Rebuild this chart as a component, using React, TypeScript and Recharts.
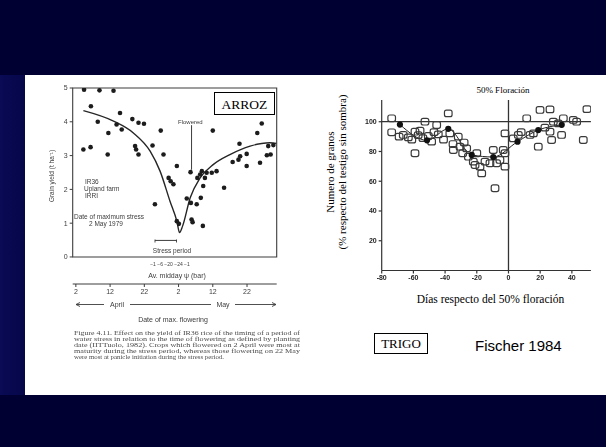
import React from 'react';
import {
  ComposedChart,
  Scatter,
  Line,
  XAxis,
  YAxis,
  ReferenceArea,
  ReferenceLine,
} from 'recharts';

const W = 606;
const H = 447;

// ---- ARROZ: IR36, upland farm IRRI. Grain yield (t/ha) vs date of max. flowering
// (day counted from 1 April, so 32 = 2 May)
const riceDays = [
  4.4, 8.9, 13.0, 6.4, 14.9, 8.4, 13.9, 15.4, 18.5, 20.3, 21.9, 11.5, 26.8, 4.2, 6.3,
  11.3, 19.3, 19.6, 20.3, 24.4, 27.6, 29.1, 29.7, 30.5, 25.1, 31.5, 31.5, 32.1, 35.5,
  34.4, 35.6, 37.3, 38.5, 35.8, 36.1, 39.1, 38.3, 38.8, 40.2, 39.7, 37.5, 41.7, 43.1,
  42.0, 45.3, 47.8, 49.5, 50.0, 49.8, 51.9, 51.9, 55.0, 56.3, 55.8, 57.8, 58.9, 58.2,
  59.7, 39.2,
];
const riceYield = [
  4.95, 4.93, 4.92, 4.46, 4.26, 4.0, 3.92, 3.77, 4.08, 3.97, 3.94, 3.67, 3.74, 3.18, 3.25,
  3.03, 3.28, 3.18, 3.03, 3.3, 3.03, 2.34, 2.24, 2.15, 1.56, 2.69, 1.06, 0.98, 2.51, 1.73,
  1.6, 1.56, 1.75, 1.11, 1.03, 0.92, 2.44, 2.54, 2.49, 2.34, 2.34, 2.49, 2.54, 3.74, 2.05,
  2.81, 2.88, 2.98, 3.35, 3.05, 2.69, 3.67, 3.95, 2.79, 3.01, 3.03, 3.28, 3.31, 2.1,
];
const riceCurveDays = [4.2, 13.0, 18.8, 23.7, 26.6, 29.5, 31.5, 32.3, 33.2, 35.4, 38.3, 42.2, 47.0, 52.9, 58.7, 60.6];
const riceCurveYield = [4.33, 4.02, 3.67, 3.13, 2.54, 1.65, 1.06, 0.72, 0.92, 1.75, 2.34, 2.74, 3.03, 3.28, 3.38, 3.36];
const riceYTicks = [0, 1, 2, 3, 4, 5];
const riceDateTicks = [2, 12, 22, 32, 42, 52];
const riceDateLabels = ['2', '12', '22', '2', '12', '22'];
const riceDayDomain: [number, number] = [1.08, 60.67];
const riceStress = { from: 25.1, to: 31.5, level: 0.49 };
const riceFloweredDay = 35.8;

// ---- TRIGO: grain number (% of unshaded control) vs days from 50% flowering
const wheatOpenDays = [
  -73.7, -73.7, -66.4, -63.2, -59.0, -59.0, -55.8, -52.7, -50.6, -48.5, -45.3, -44.3,
  -38.0, -37.0, -34.8, -31.7, -30.6, -28.9, -26.4, -25.3, -22.2, -21.1, -20.0, -18.0,
  -16.9, -14.8, -11.7, -9.6, -8.5, -7.5, -5.4, -3.3, -2.2, -2.2, -2.2, 3.0, 6.2, 11.5,
  13.6, 15.7, 18.8, 19.9, 26.2, 26.2, 27.2, 28.3, 31.4, 33.5, 34.6, 40.9, 43.0, 47.2,
  49.5, -69.0, -61.0, -57.0, -54.0, -47.0, -41.0, -35.0, -28.0, 8.0, 23.0,
];
const wheatOpenGrains = [
  102.3, 92.9, 91.1, 89.5, 93.3, 78.8, 94.0, 100.0, 90.4, 86.6, 97.8, 91.5, 105.6, 92.2,
  81.0, 90.0, 83.2, 78.8, 82.1, 76.5, 73.2, 70.9, 78.8, 69.8, 65.3, 73.2, 72.1, 81.0,
  55.3, 72.1, 74.3, 81.0, 92.2, 69.8, 78.8, 88.8, 91.1, 102.3, 91.1, 92.2, 83.2, 107.9,
  108.3, 93.3, 87.7, 100.0, 98.9, 91.1, 102.3, 101.2, 100.0, 87.7, 108.5, 90.0, 88.0,
  91.0, 89.0, 93.0, 88.0, 85.0, 86.0, 93.0, 96.0,
];
const wheatMeanDays = [-68.5, -51.4, -38.0, -23.2, -9.6, 5.7, 18.8, 33.6];
const wheatMeanGrains = [98.1, 87.5, 95.2, 77.7, 76.3, 86.6, 94.4, 97.9];
const wheatXTicks = [-80, -60, -40, -20, 0, 20, 40];
const wheatYTicks = [20, 40, 60, 80, 100];
const wheatDayDomain: [number, number] = [-80, 52];
const wheatGrainDomain: [number, number] = [0, 114.6];

const riceData = riceDays.map((d, i) => ({ day: d, yield: riceYield[i] }));
const riceCurve = riceCurveDays.map((d, i) => ({ day: d, yield: riceCurveYield[i] }));
const wheatOpen = wheatOpenDays.map((d, i) => ({ day: d, grains: wheatOpenGrains[i] }));
const wheatMeans = wheatMeanDays.map((d, i) => ({ day: d, grains: wheatMeanGrains[i] }));

const SERIF = '"Liberation Serif", "DejaVu Serif", serif';
const SANS = '"Liberation Sans", Arial, sans-serif';

const RiceDot = (p: any) =>
  p.cx == null ? <g /> : <circle cx={p.cx} cy={p.cy} r={2.3} fill="#1c1c1c" />;
const OpenSquare = (p: any) =>
  p.cx == null ? (
    <g />
  ) : (
    <rect x={p.cx - 3.8} y={p.cy - 3.3} width={7.6} height={6.6} rx={2} fill="none" stroke="#3a3a3a" strokeWidth={1.2} />
  );
const MeanDot = (p: any) =>
  p.cx == null ? <g /> : <circle cx={p.cx} cy={p.cy} r={3.1} fill="#111" />;

const riceTick = { fontSize: 7, fill: '#3c3c3c', fontFamily: SANS };
const wheatTick = { fontSize: 7, fill: '#222', fontFamily: SANS, fontWeight: 700 };

const captionLines = [
  'Figure 4.11.    Effect on the yield of IR36 rice of the timing of a period of',
  'water stress in relation to the time of flowering as defined by planting',
  'date (IITTuolo, 1982). Crops which flowered on 2 April were most at',
  'maturity during the stress period, whereas those flowering on 22 May',
  'were most at panicle initiation during the stress period.',
];

function RiceChart() {
  return (
    <ComposedChart width={W} height={H} margin={{ top: 88, right: 329.3, bottom: 143, left: 52.7 }}>
      <XAxis
        xAxisId="d"
        type="number"
        dataKey="day"
        domain={riceDayDomain}
        ticks={riceDateTicks}
        interval={0}
        allowDataOverflow
        tickFormatter={(v: number) => riceDateLabels[riceDateTicks.indexOf(v)]}
        height={20}
        stroke="#3c3c3c"
        tickSize={3}
        tick={riceTick}
      />
      <YAxis
        yAxisId="y"
        type="number"
        dataKey="yield"
        domain={[-0.8, 5]}
        ticks={riceYTicks}
        interval={0}
        allowDataOverflow
        width={20}
        axisLine={false}
        stroke="#3c3c3c"
        tickSize={3}
        tick={riceTick}
      />
      <ReferenceArea
        xAxisId="d"
        yAxisId="y"
        x1={riceDayDomain[0]}
        x2={riceDayDomain[1]}
        y1={0}
        y2={5}
        fill="none"
        stroke="#3c3c3c"
        strokeWidth={1.1}
        fillOpacity={0}
      />
      <ReferenceLine
        xAxisId="d"
        yAxisId="y"
        segment={[
          { x: riceFloweredDay, y: 2.58 },
          { x: riceFloweredDay, y: 3.9 },
        ]}
        stroke="#3c3c3c"
      />
      <ReferenceLine
        xAxisId="d"
        yAxisId="y"
        segment={[
          { x: riceStress.from, y: riceStress.level },
          { x: riceStress.to, y: riceStress.level },
        ]}
        stroke="#3c3c3c"
      />
      <Line
        xAxisId="d"
        yAxisId="y"
        data={riceCurve}
        dataKey="yield"
        type="monotone"
        stroke="#262626"
        strokeWidth={1.4}
        dot={false}
        isAnimationActive={false}
      />
      <Scatter
        xAxisId="d"
        yAxisId="y"
        data={riceData}
        dataKey="yield"
        shape={RiceDot}
        isAnimationActive={false}
      />
    </ComposedChart>
  );
}

function WheatChart() {
  return (
    <ComposedChart width={W} height={H} margin={{ top: 100, right: 15.1, bottom: 156.5, left: 361.7 }}>
      <XAxis
        type="number"
        dataKey="day"
        domain={wheatDayDomain}
        ticks={wheatXTicks}
        interval={0}
        allowDataOverflow
        height={20}
        stroke="#333"
        strokeWidth={1.2}
        tickSize={3}
        tick={wheatTick}
      />
      <YAxis
        type="number"
        dataKey="grains"
        domain={wheatGrainDomain}
        ticks={wheatYTicks}
        interval={0}
        allowDataOverflow
        width={20}
        stroke="#333"
        strokeWidth={1.2}
        tickSize={3}
        tick={wheatTick}
      />
      <ReferenceLine y={100} stroke="#333" strokeWidth={1.2} />
      <ReferenceLine x={0} stroke="#333" strokeWidth={1.3} />
      <Scatter data={wheatOpen} dataKey="grains" shape={OpenSquare} isAnimationActive={false} />
      <Line
        data={wheatMeans}
        dataKey="grains"
        type="monotone"
        stroke="#222"
        strokeWidth={1}
        dot={false}
        isAnimationActive={false}
      />
      <Scatter data={wheatMeans} dataKey="grains" shape={MeanDot} isAnimationActive={false} />
    </ComposedChart>
  );
}

export default function App() {
  return (
    <div style={{ position: 'absolute', left: 0, top: 0, width: W, height: H, background: '#000033', overflow: 'hidden' }}>
      <div
        style={{
          position: 'absolute',
          left: 0,
          top: 75,
          width: 25,
          height: 320,
          background: 'linear-gradient(90deg, #0a0a55 0%, #06064a 100%)',
        }}
      />
      <div style={{ position: 'absolute', left: 25, top: 75, width: W - 25, height: 320, background: '#ffffff' }} />

      {/* scanned rice figure */}
      <div style={{ position: 'absolute', left: 0, top: 0, width: W, height: H, filter: 'blur(0.5px)' }}>
        <RiceChart />
        <svg width={W} height={H} style={{ position: 'absolute', left: 0, top: 0 }}>
          <g fill="#3c3c3c" fontFamily={SANS}>
            <text x={54} y={176} fontSize={6.5} textAnchor="middle" transform="rotate(-90 54 176)">
              Grain yield (t ha⁻¹)
            </text>
            <text x={85} y={184} fontSize={6.5}>IR36</text>
            <text x={84} y={191} fontSize={6.5}>Upland farm</text>
            <text x={85} y={198} fontSize={6.5}>IRRI</text>
            <text x={74} y={219} fontSize={6.5}>Date of maximum stress</text>
            <text x={89} y={226} fontSize={6.5}>2 May 1979</text>
            <text x={178} y={124} fontSize={6}>Flowered</text>
            <text x={172} y={253} fontSize={6.5} textAnchor="middle">Stress period</text>
            <text x={170} y={266} fontSize={5} textAnchor="middle">−1 −6 −20 −24 −1</text>
            <text x={177} y={278} fontSize={7} textAnchor="middle">Av. midday ψ (bar)</text>
            <text x={117} y={307} fontSize={7} textAnchor="middle">April</text>
            <text x={223} y={307} fontSize={7} textAnchor="middle">May</text>
            <text x={173} y={322} fontSize={7} textAnchor="middle">Date of max. flowering</text>
          </g>
          <g stroke="#3c3c3c" strokeWidth={0.9}>
            <line x1={155} y1={239.5} x2={155} y2={242.5} />
            <line x1={176.5} y1={239.5} x2={176.5} y2={242.5} />
            <line x1={76} y1={304.5} x2={104} y2={304.5} />
            <line x1={130} y1={304.5} x2={211} y2={304.5} />
            <line x1={235} y1={304.5} x2={276} y2={304.5} />
            <line x1={76} y1={304.5} x2={80} y2={302.5} />
            <line x1={76} y1={304.5} x2={80} y2={306.5} />
            <line x1={276} y1={304.5} x2={272} y2={302.5} />
            <line x1={276} y1={304.5} x2={272} y2={306.5} />
          </g>
          <g fill="#4a4a4a" fontFamily={SERIF} fontSize={5.6}>
            {captionLines.map((t, i) => (
              <text
                key={i}
                x={74}
                y={335 + i * 6}
                textLength={i === captionLines.length - 1 ? 150 : 226}
                lengthAdjust="spacingAndGlyphs"
              >
                {t}
              </text>
            ))}
          </g>
        </svg>
      </div>

      {/* scanned wheat figure */}
      <div style={{ position: 'absolute', left: 0, top: 0, width: W, height: H, filter: 'blur(0.35px)' }}>
        <WheatChart />
      </div>

      {/* typed labels */}
      <svg width={W} height={H} style={{ position: 'absolute', left: 0, top: 0 }}>
        <rect x={214.5} y={92.5} width={60} height={22} fill="#fff" stroke="#000" strokeWidth={1} />
        <text x={244.5} y={108.5} fontSize={13.5} fontFamily={SERIF} textAnchor="middle" fill="#000">
          ARROZ
        </text>
        <text x={503} y={93} fontSize={9} fontFamily={SERIF} textAnchor="middle" fill="#000">
          50% Floración
        </text>
        <text x={334} y={172} fontSize={11} fontFamily={SERIF} textAnchor="middle" fill="#000" transform="rotate(-90 334 172)">
          Numero de granos
        </text>
        <text x={345.5} y={172} fontSize={11} fontFamily={SERIF} textAnchor="middle" fill="#000" transform="rotate(-90 345.5 172)">
          (% respecto del testigo sin sombra)
        </text>
        <text x={490.5} y={303} fontSize={11.5} fontFamily={SERIF} textAnchor="middle" fill="#000">
          Días respecto del 50% floración
        </text>
        <rect x={374.5} y={333.5} width={53} height={20} fill="#fff" stroke="#000" strokeWidth={1} />
        <text x={401} y={348} fontSize={13} fontFamily={SERIF} textAnchor="middle" fill="#000">
          TRIGO
        </text>
        <text x={475} y={351} fontSize={15} fontFamily={SANS} fill="#000">
          Fischer 1984
        </text>
      </svg>
    </div>
  );
}
